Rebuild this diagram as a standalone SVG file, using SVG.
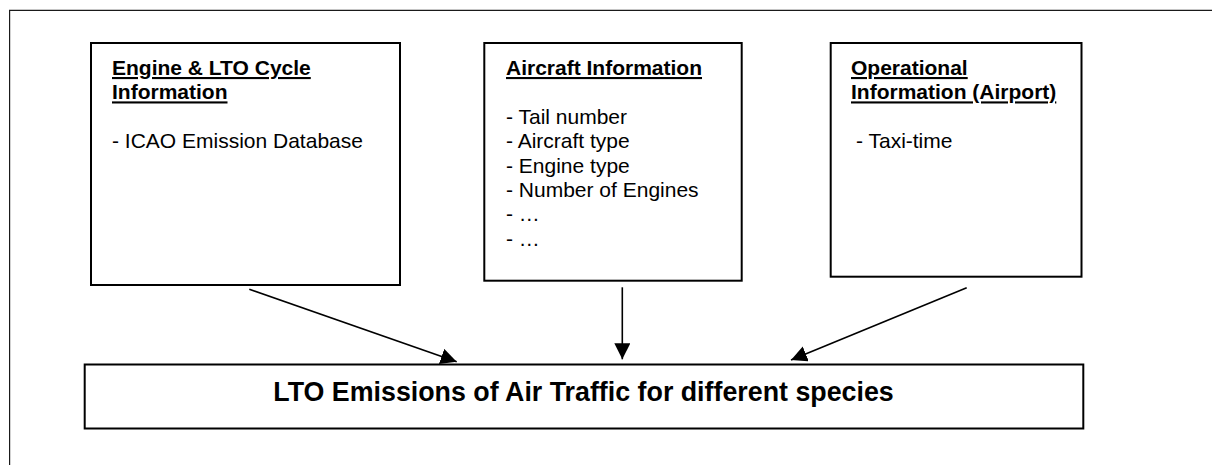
<svg xmlns="http://www.w3.org/2000/svg" width="1212" height="465" viewBox="0 0 1212 465">
  <style>
    .box { fill: #ffffff; stroke: #000000; stroke-width: 2; }
    .frame { fill: none; stroke: #1a1a1a; stroke-width: 1.2; }
    .t { font-family: "Liberation Sans", Arial, sans-serif; font-size: 21px; fill: #000000; }
    .h { font-weight: bold; text-decoration: underline; }
    .main { font-family: "Liberation Sans", Arial, sans-serif; font-size: 26.8px; font-weight: bold; fill: #000000; }
    .conn { stroke: #000000; stroke-width: 1.6; fill: none; }
  </style>
  <defs>
    <marker id="arrow" markerUnits="userSpaceOnUse" markerWidth="17" markerHeight="17" refX="16" refY="8" orient="auto">
      <path d="M0,0 L16,8 L0,16 z" fill="#000000"/>
    </marker>
  </defs>
  <rect width="1212" height="465" fill="#ffffff"/>
  <path class="frame" d="M9.6,465 V10.4 H1212"/>

  <g id="engine-lto">
    <rect class="box" x="91" y="43" width="309" height="242"/>
    <text class="t h" x="112" y="75">Engine &amp; LTO Cycle</text>
    <text class="t h" x="112" y="99.4">Information</text>
    <text class="t" x="112" y="148.2">- ICAO Emission Database</text>
  </g>

  <g id="aircraft-info">
    <rect class="box" x="484.3" y="43" width="257.4" height="237.7"/>
    <text class="t h" x="506" y="75">Aircraft Information</text>
    <text class="t" x="506" y="123.8">- Tail number</text>
    <text class="t" x="506" y="148.2">- Aircraft type</text>
    <text class="t" x="506" y="172.6">- Engine type</text>
    <text class="t" x="506" y="197">- Number of Engines</text>
    <text class="t" x="506" y="221.4">- …</text>
    <text class="t" x="506" y="245.8">- …</text>
  </g>

  <g id="operational-info">
    <rect class="box" x="830.7" y="43" width="250.8" height="233.7"/>
    <text class="t h" x="851" y="75">Operational</text>
    <text class="t h" x="851" y="99.4">Information (Airport)</text>
    <text class="t" x="856" y="148.2">- Taxi-time</text>
  </g>

  <g id="lto-emissions">
    <rect class="box" x="84.7" y="364.5" width="998.6" height="64"/>
    <text class="main" x="583.5" y="401" text-anchor="middle">LTO Emissions of Air Traffic for different species</text>
  </g>

  <g id="connectors">
    <line class="conn" x1="249.3" y1="289.3" x2="456.7" y2="361.7" marker-end="url(#arrow)"/>
    <line class="conn" x1="622.3" y1="287.3" x2="622.3" y2="359.3" marker-end="url(#arrow)"/>
    <line class="conn" x1="966.7" y1="287.7" x2="791" y2="360" marker-end="url(#arrow)"/>
  </g>
</svg>
